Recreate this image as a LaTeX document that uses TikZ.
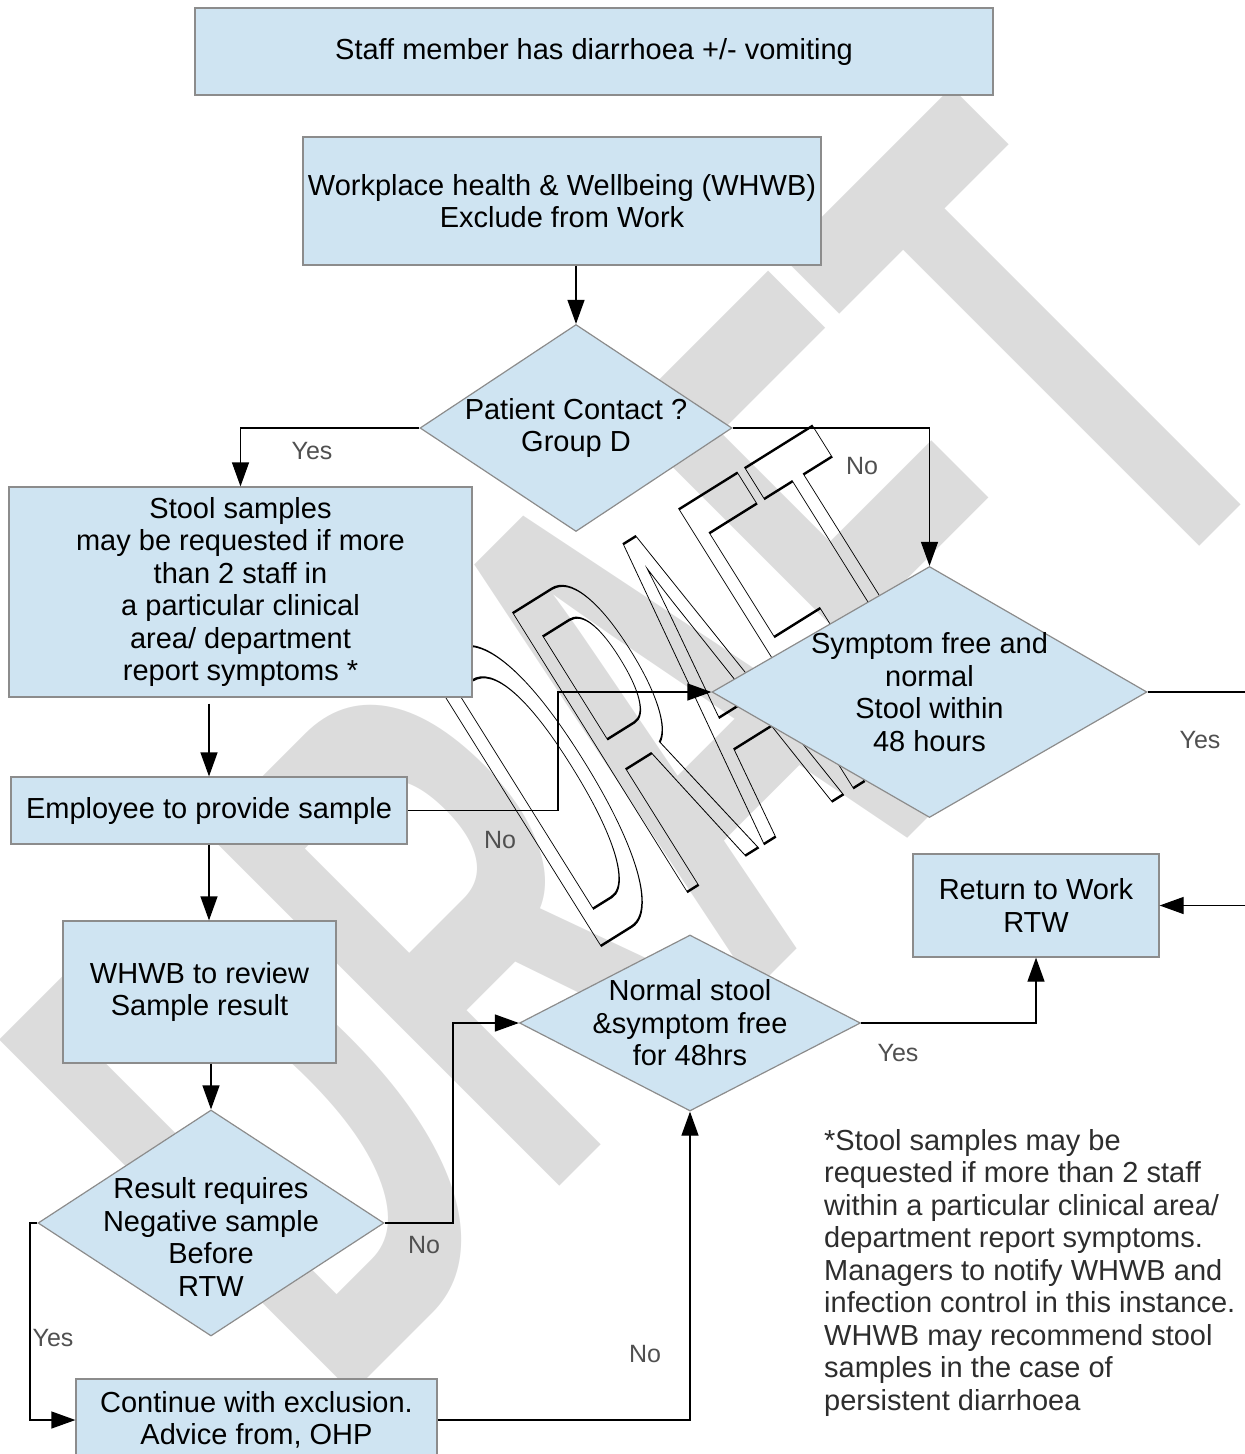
\documentclass[tikz,border=0pt]{standalone}
\usepackage{fontspec}
\setmainfont{Liberation Sans}
\usetikzlibrary{shapes.geometric, arrows.meta}

\definecolor{boxfill}{RGB}{207,228,242}
\definecolor{boxline}{RGB}{140,140,140}
\definecolor{wmgray}{RGB}{220,220,220}
\definecolor{labelgray}{RGB}{80,80,80}
\definecolor{notegray}{RGB}{45,45,45}

\newcommand{\flowfont}{\fontsize{29}{32.5}\selectfont}
\newcommand{\labelfont}{\fontsize{25}{30}\selectfont}

\tikzset{
  procbox/.style={rectangle, draw=boxline, fill=boxfill, line width=1.2pt, inner sep=0pt, align=center, font=\flowfont},
  decision/.style={diamond, draw=boxline, fill=boxfill, line width=1.2pt, inner sep=-25pt, aspect=1.6, align=center, font=\flowfont},
  flow/.style={-{Triangle[length=24pt, width=17pt]}, line width=1.2pt},
  answer/.style={font=\labelfont, text=labelgray, inner sep=0pt},
}

\begin{document}
\begin{tikzpicture}[x=1pt, y=1pt]
\useasboundingbox (0,0) rectangle (1245,-1454);

% watermarks
\begin{scope}[shift={(333,-1413)}, rotate=45, xscale=0.5606]
  \node[transform shape, anchor=base west, inner sep=0pt, text=wmgray, font=\fontsize{726}{726}\selectfont\bfseries] (wmback) at (0,0) {DRAFT};
\end{scope}
\begin{scope}[shift={(591,-952)}, rotate=32, xscale=0.295]
  \node[transform shape, anchor=base west, inner sep=0pt, font=\fontsize{478}{478}\selectfont] (wmline) at (0,0) {\special{pdf:literal direct 1 Tr 2.4 w}DRAFT\special{pdf:literal direct 0 Tr}};
\end{scope}

% boxes
\node[procbox, minimum width=798pt, minimum height=87pt] (onset) at (594,-51.5) {Staff member has diarrhoea +/- vomiting};
\node[procbox, minimum width=518pt, minimum height=128pt] (exclude) at (562,-201) {Workplace health \& Wellbeing (WHWB)\\Exclude from Work};
\node[decision, minimum width=312pt, minimum height=207pt] (contact) at (576,-428) {Patient Contact ?\\Group D};
\node[procbox, minimum width=463pt, minimum height=210pt] (stool) at (240.5,-592) {Stool samples\\may be requested if more\\than 2 staff in\\a particular clinical\\area/ department\\report symptoms *};
\node[decision, minimum width=435pt, minimum height=251pt] (symptom) at (929.5,-692) {Symptom free and\\normal\\Stool within\\48 hours};
\node[procbox, minimum width=396pt, minimum height=67pt] (provide) at (209,-810.5) {Employee to provide sample};
\node[procbox, minimum width=273pt, minimum height=142pt] (review) at (199.5,-992) {WHWB to review\\Sample result};
\node[decision, minimum width=346pt, minimum height=226pt] (negative) at (211,-1223) {\rule{0pt}{49pt}Result requires\\Negative sample\\Before\\RTW};
\node[decision, minimum width=341pt, minimum height=176pt] (normal) at (690,-1023) {Normal stool\\\&symptom free\\for 48hrs};
\node[procbox, minimum width=246pt, minimum height=103pt] (rtw) at (1036,-905.5) {Return to Work\\RTW};
\node[procbox, minimum width=361pt, minimum height=82pt] (exclusion) at (256.5,-1420) {Continue with exclusion.\\Advice from, OHP};

\node[anchor=north west, inner sep=0pt, align=left, font=\flowfont, text=notegray] (footnote) at (824,-1129) {*Stool samples may be\\requested if more than 2 staff\\within a particular clinical area/\\department report symptoms.\\Managers to notify WHWB and\\infection control in this instance.\\WHWB may recommend stool\\samples in the case of\\persistent diarrhoea};

% connectors
\coordinate (provturn) at (558,-810.5);
\coordinate (negturn) at (453,-1223);
\coordinate (yesturn) at (30,-1223);
\coordinate (offright) at (1290,-692);

\draw[flow] (exclude.south -| contact.north) -- (contact.north);
\draw[flow] (contact.west) -| (stool.north);
\draw[flow] (contact.east) -| (symptom.north);
\draw[flow, shorten <=6pt] (stool.south -| provide.north) -- (provide.north);
\draw[flow] (provide.east) -- (provturn) |- (symptom.west);
\draw[flow] (provide.south) -- (provide.south |- review.north);
\draw[flow] (negative.north |- review.south) -- (negative.north);
\draw[flow] (negative.east) -- (negturn) |- (normal.west);
\draw[flow] (negative.west) -- (yesturn) |- (exclusion.west);
\draw[flow] (exclusion.east) -| (normal.south);
\draw[flow] (normal.east) -| (rtw.south);
\draw[flow] (symptom.east) -- (offright) |- (rtw.east);

% answers
\node[answer] (yesA) at (312,-451) {Yes};
\node[answer] (noA) at (862,-466) {No};
\node[answer] (noB) at (500,-840) {No};
\node[answer] (yesB) at (1200,-740) {Yes};
\node[answer] (noC) at (424,-1245) {No};
\node[answer] (yesC) at (53,-1338) {Yes};
\node[answer] (noD) at (645,-1354) {No};
\node[answer] (yesD) at (898,-1053) {Yes};
\end{tikzpicture}
\end{document}
